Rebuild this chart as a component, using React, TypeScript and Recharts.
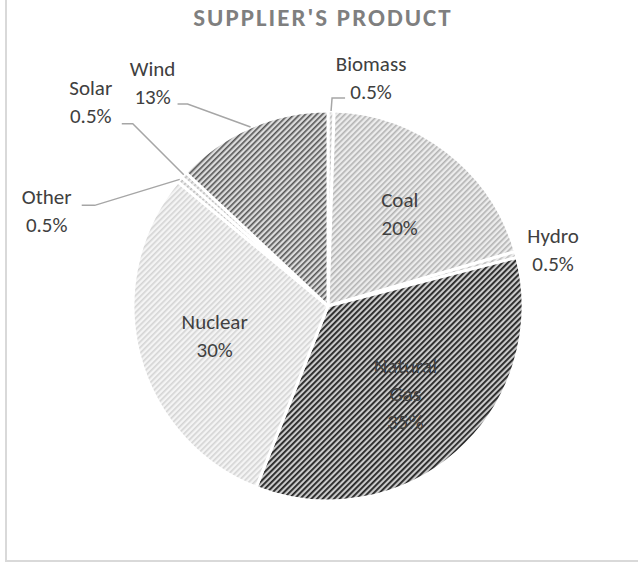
import React from 'react';
import { PieChart, Pie, Cell } from 'recharts';

// chart data, clockwise from 12 o'clock
const categories = ['Biomass', 'Coal', 'Hydro', 'Natural Gas', 'Nuclear', 'Other', 'Solar', 'Wind'];
const shares = [0.5, 20, 0.5, 35, 30, 0.5, 0.5, 13];

const data = categories.map((name, i) => ({ name, value: shares[i] }));

// fill pattern per category (ids of the <pattern> defs below)
const patternIds: Record<string, string> = {
  Biomass: 'pSmall',
  Coal: 'pCoal',
  Hydro: 'pSmall',
  'Natural Gas': 'pGas',
  Nuclear: 'pNuclear',
  Other: 'pSmall',
  Solar: 'pSmall',
  Wind: 'pWind',
};

const RADIAN = Math.PI / 180;
const FONT = 'Calibri, Carlito, Lato, sans-serif';
const LABEL_COLOR = '#404040';
const LEADER_COLOR = '#a6a6a6';
const LINE_H = 28;

// where the outside labels sit, relative to the slice's outer edge point;
// elbow is relative to the label block centre, tail is the short horizontal bit
const outsideLayout: Record<string, { dx: number; dy: number; elbow?: [number, number]; tail?: number }> = {
  Biomass: { dx: 40, dy: -34, elbow: [-39, 21], tail: 13 },
  Hydro: { dx: 37, dy: -5 },
  Other: { dx: -133, dy: 31, elbow: [48, -5], tail: -13 },
  Solar: { dx: -93, dy: -73, elbow: [42, 22], tail: -11 },
  Wind: { dx: -98, dy: -45, elbow: [35, 22], tail: -10 },
};

const Lines = ({ x, y, lines }: { x: number; y: number; lines: string[] }) => (
  <text x={x} y={y} textAnchor="middle" fill={LABEL_COLOR} fontFamily={FONT} fontSize={21}>
    {lines.map((l, i) => (
      <tspan key={i} x={x} y={y + (i - (lines.length - 1) / 2) * LINE_H} dy="0.36em">
        {l}
      </tspan>
    ))}
  </text>
);

const renderLabel = (props: any) => {
  const { cx, cy, midAngle, outerRadius, name, value } = props;
  const cos = Math.cos(-midAngle * RADIAN);
  const sin = Math.sin(-midAngle * RADIAN);
  const pct = `${value}%`;

  // big slices get their label inside
  if (!outsideLayout[name]) {
    const r = outerRadius * 0.6;
    return <Lines x={cx + r * cos} y={cy + r * sin} lines={[...name.split(' '), pct]} />;
  }

  const lay = outsideLayout[name];
  const ex = cx + outerRadius * cos;
  const ey = cy + outerRadius * sin;
  const bx = ex + lay.dx;
  const by = ey + lay.dy;
  let leader = null;
  if (lay.elbow) {
    const kx = bx + lay.elbow[0];
    const ky = by + lay.elbow[1];
    leader = (
      <polyline
        points={`${ex},${ey} ${kx},${ky} ${kx + (lay.tail || 0)},${ky}`}
        fill="none"
        stroke={LEADER_COLOR}
        strokeWidth={1.5}
      />
    );
  }
  return (
    <g>
      {leader}
      <Lines x={bx} y={by} lines={[name, pct]} />
    </g>
  );
};

const Patterns = () => (
  <svg width={0} height={0} style={{ position: 'absolute' }}>
    <defs>
      <pattern id="pCoal" width={4} height={4} patternUnits="userSpaceOnUse" patternTransform="rotate(45)">
        <rect width={4} height={4} fill="#ececec" />
        <rect width={1.6} height={4} fill="#b3b3b3" />
      </pattern>
      <pattern id="pGas" width={4} height={4} patternUnits="userSpaceOnUse" patternTransform="rotate(45)">
        <rect width={4} height={4} fill="#cacaca" />
        <rect width={1.8} height={4} fill="#222222" />
      </pattern>
      <pattern id="pNuclear" width={4} height={4} patternUnits="userSpaceOnUse" patternTransform="rotate(45)">
        <rect width={4} height={4} fill="#f4f4f4" />
        <rect width={1.6} height={4} fill="#d4d4d4" />
      </pattern>
      <pattern id="pWind" width={4} height={4} patternUnits="userSpaceOnUse" patternTransform="rotate(45)">
        <rect width={4} height={4} fill="#dcdcdc" />
        <rect width={1.6} height={4} fill="#555555" />
      </pattern>
      <pattern id="pSmall" width={4} height={4} patternUnits="userSpaceOnUse" patternTransform="rotate(45)">
        <rect width={4} height={4} fill="#ededed" />
        <rect width={1.6} height={4} fill="#bdbdbd" />
      </pattern>
    </defs>
  </svg>
);

export default function App() {
  return (
    <div
      style={{
        position: 'fixed',
        left: 0,
        top: 0,
        width: 638,
        height: 562,
        overflow: 'hidden',
        background: '#fff',
      }}
    >
      <Patterns />
      {/* chart frame: only the left and bottom edges fall inside the picture */}
      <div
        style={{
          position: 'absolute',
          left: 5,
          top: -10,
          width: 700,
          height: 572,
          boxSizing: 'border-box',
          border: '2px solid #d9d9d9',
        }}
      />
      <div
        style={{
          position: 'absolute',
          left: 0,
          top: 4,
          width: 646,
          textAlign: 'center',
          fontFamily: FONT,
          fontWeight: 700,
          fontSize: 25,
          letterSpacing: 2,
          color: '#7f7f7f',
          lineHeight: '28px',
        }}
      >
        SUPPLIER'S PRODUCT
      </div>
      <div style={{ position: 'absolute', left: 0, top: 0 }}>
        <PieChart width={638} height={562}>
          <Pie
            data={data}
            dataKey="value"
            nameKey="name"
            cx={323}
            cy={301}
            outerRadius={195}
            startAngle={90}
            endAngle={-270}
            stroke="#ffffff"
            strokeWidth={3}
            label={renderLabel}
            labelLine={false}
            isAnimationActive={false}
          >
            {data.map((d) => (
              <Cell key={d.name} fill={`url(#${patternIds[d.name]})`} />
            ))}
          </Pie>
        </PieChart>
      </div>
    </div>
  );
}
